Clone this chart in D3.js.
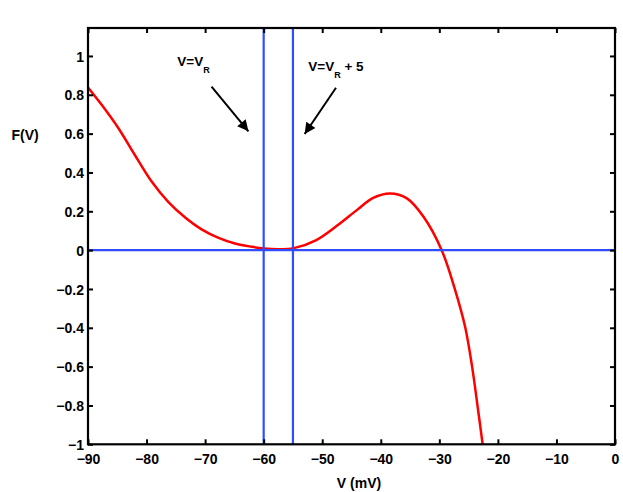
<!DOCTYPE html>
<html>
<head>
<meta charset="utf-8">
<script src="https://cdn.jsdelivr.net/npm/d3@7"></script>
<style>
  html, body { margin: 0; padding: 0; background: #fff; }
  svg { display: block; }
  text { font-family: "Liberation Sans", Arial, Helvetica, sans-serif; font-weight: bold; fill: #000; }
</style>
</head>
<body>
<svg id="chart" width="623" height="492"></svg>
<script>
// ---- data ----
const curveV = [-90, -87.7, -84.8, -82.0, -79.1, -76.3, -73.2, -70.6, -67.7, -64.9, -62.0, -60.0, -57.5, -55.0, -51.0, -47.5, -44.1, -41.3, -38.4, -35.6, -32.7, -29.6, -27.3, -25.6, -24.4, -23.45, -22.6];
const curveF = [0.838, 0.75, 0.628, 0.49, 0.352, 0.249, 0.163, 0.107, 0.063, 0.034, 0.017, 0.009, 0.005, 0.009, 0.052, 0.125, 0.206, 0.269, 0.292, 0.268, 0.172, 0.0, -0.206, -0.395, -0.601, -0.808, -1.0];
const vLines = [-60, -55];        // V = V_R, V = V_R + 5
const hLines = [0];
const xTicks = [-90, -80, -70, -60, -50, -40, -30, -20, -10, 0];
const yTicks = [-1, -0.8, -0.6, -0.4, -0.2, 0, 0.2, 0.4, 0.6, 0.8, 1];
const xDomain = [-90, 0];
const yDomain = [-1, 1.144];
// annotations: label anchor and arrow start/end in data units
const annotations = [
  { main: "V=V", sub: "R", tail: "", at: [-74.75, 0.95], from: [-68.9, 0.842], to: [-62.6, 0.612] },
  { main: "V=V", sub: "R", tail: " + 5", at: [-52.38, 0.923], from: [-47.65, 0.836], to: [-53.0, 0.598] }
];

// ---- layout ----
const L = 88, R = 615, T = 28, B = 444.3;
const svg = d3.select("#chart");
const x = d3.scaleLinear().domain(xDomain).range([L, R]);
const y = d3.scaleLinear().domain(yDomain).range([B, T]);
const fmt = v => {
  const s = d3.format("")(Math.round(v * 10) / 10);
  return s.replace("-", "\u2212");
};

svg.append("defs").append("clipPath").attr("id", "clip")
  .append("rect").attr("x", L).attr("y", T).attr("width", R - L).attr("height", B - T);
svg.select("defs").append("marker")
  .attr("id", "arrow").attr("viewBox", "0 0 10 10").attr("refX", 10).attr("refY", 5)
  .attr("markerWidth", 6.5).attr("markerHeight", 5.5).attr("markerUnits", "strokeWidth")
  .attr("orient", "auto")
  .append("path").attr("d", "M0,0 L10,5 L0,10 z").attr("fill", "#000");

const plot = svg.append("g").attr("clip-path", "url(#clip)");

// red curve
const pts = curveV.map((v, i) => [v, curveF[i]]);
plot.append("path")
  .datum(pts)
  .attr("fill", "none")
  .attr("stroke", "#ff0000")
  .attr("stroke-width", 2.5)
  .attr("d", d3.line().x(d => x(d[0])).y(d => y(d[1])).curve(d3.curveCatmullRom.alpha(0.5)));

// blue lines
plot.selectAll(".hl").data(hLines).enter().append("line")
  .attr("x1", L).attr("x2", R).attr("y1", d => y(d)).attr("y2", d => y(d))
  .attr("stroke", "#2f4cff").attr("stroke-width", 2.2);
plot.selectAll(".vl").data(vLines).enter().append("line")
  .attr("x1", d => x(d)).attr("x2", d => x(d)).attr("y1", T).attr("y2", B)
  .attr("stroke", "#2f4cff").attr("stroke-width", 2.2);

// axes: ticks inward on all four sides
const tl = 5;
const axB = svg.append("g").attr("transform", `translate(0,${B})`)
  .call(d3.axisBottom(x).tickValues(xTicks).tickSize(-tl).tickPadding(10).tickFormat(fmt));
const axT = svg.append("g").attr("transform", `translate(0,${T})`)
  .call(d3.axisTop(x).tickValues(xTicks).tickSize(-tl).tickFormat(""));
const axL = svg.append("g").attr("transform", `translate(${L},0)`)
  .call(d3.axisLeft(y).tickValues(yTicks).tickSize(-tl).tickPadding(4).tickFormat(fmt));
const axR = svg.append("g").attr("transform", `translate(${R},0)`)
  .call(d3.axisRight(y).tickValues(yTicks).tickSize(-tl).tickFormat(""));
[axB, axT, axL, axR].forEach(a => {
  a.select(".domain").remove();
  a.selectAll(".tick line").attr("stroke", "#000").attr("stroke-width", 2);
  a.selectAll(".tick text").style("font-size", "14px").style("font-weight", "bold")
    .style("font-family", "'Liberation Sans', Arial, sans-serif").attr("fill", "#000");
});
axL.selectAll(".tick text").attr("dy", "0.36em");
axB.selectAll(".tick text").attr("dy", "0.72em");

// frame
svg.append("rect").attr("x", L).attr("y", T).attr("width", R - L).attr("height", B - T)
  .attr("fill", "none").attr("stroke", "#000").attr("stroke-width", 2.2);

// axis labels
svg.append("text").attr("x", 359).attr("y", 488).attr("text-anchor", "middle")
  .style("font-size", "14px").text("V (mV)");
svg.append("text").attr("x", 11.5).attr("y", 140).attr("text-anchor", "start")
  .style("font-size", "14px").text("F(V)");

// annotations
annotations.forEach(a => {
  const t = svg.append("text").attr("x", x(a.at[0])).attr("y", y(a.at[1]))
    .style("font-size", "13.5px");
  t.append("tspan").text(a.main);
  t.append("tspan").attr("dy", 7).style("font-size", "9px").text(a.sub);
  if (a.tail) t.append("tspan").attr("dy", -7).text(a.tail);
  svg.append("line")
    .attr("x1", x(a.from[0])).attr("y1", y(a.from[1]))
    .attr("x2", x(a.to[0])).attr("y2", y(a.to[1]))
    .attr("stroke", "#000").attr("stroke-width", 2)
    .attr("marker-end", "url(#arrow)");
});
</script>
</body>
</html>
